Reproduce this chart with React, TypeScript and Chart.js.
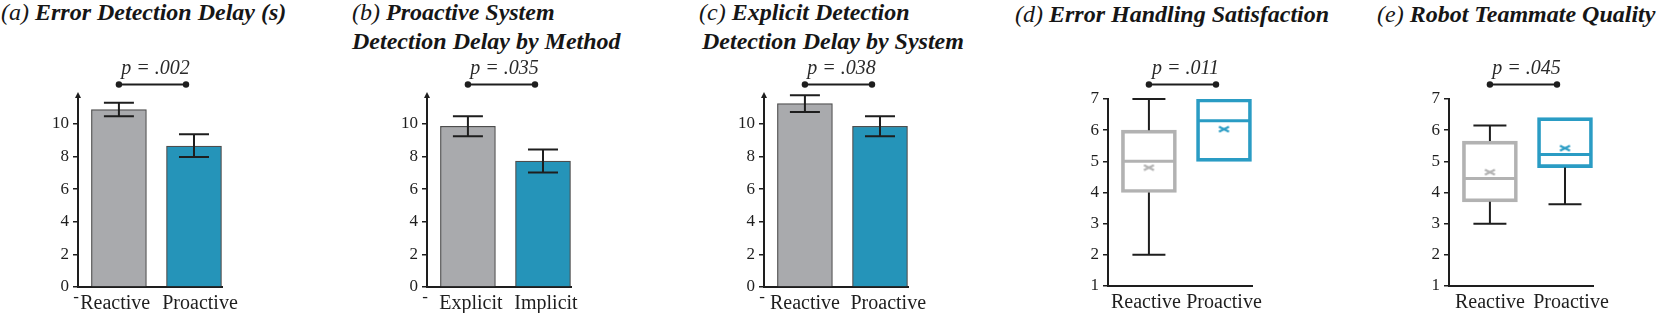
import React, { useEffect, useRef } from "react";
import { Chart, registerables } from "chart.js";

Chart.register(...registerables);

const FONT = '"Liberation Serif", "DejaVu Serif", "Noto Serif", serif';

// ---------- Panel (a) ----------
const aCategories = ["Reactive", "Proactive"];
const aMeans = [10.88, 8.64];
const aErrLow = [10.47, 7.98];
const aErrHigh = [11.3, 9.37];
const aPValue = "p = .002";

// ---------- Panel (b) ----------
const bCategories = ["Explicit", "Implicit"];
const bMeans = [9.86, 7.72];
const bErrLow = [9.25, 7.03];
const bErrHigh = [10.47, 8.44];
const bPValue = "p = .035";

// ---------- Panel (c) ----------
const cCategories = ["Reactive", "Proactive"];
const cMeans = [11.25, 9.86];
const cErrLow = [10.73, 9.25];
const cErrHigh = [11.77, 10.47];
const cPValue = "p = .038";

const barTicks = [0, 2, 4, 6, 8, 10];

// ---------- Panel (d) ----------
const dCategories = ["Reactive", "Proactive"];
const dQ1 = [4, 5];
const dQ3 = [6, 7];
const dMedian = [5, 6.3];
const dMean = [4.8, 6.03];
const dMin = [2, 5];
const dMax = [7, 7];
const dPValue = "p = .011";

// ---------- Panel (e) ----------
const eCategories = ["Reactive", "Proactive"];
const eQ1 = [3.7, 4.8];
const eQ3 = [5.65, 6.4];
const eMedian = [4.45, 5.22];
const eMean = [4.65, 5.42];
const eMin = [3.0, 3.62];
const eMax = [6.15, 6.4];
const ePValue = "p = .045";

const boxTicks = [1, 2, 3, 4, 5, 6, 7];

// ---------- Titles ----------
const titleA = ["(a)", "Error Detection Delay (s)"];
const titleB = ["(b)", "Proactive System", "Detection Delay by Method"];
const titleC = ["(c)", "Explicit Detection", "Detection Delay by System"];
const titleD = ["(d)", "Error Handling Satisfaction"];
const titleE = ["(e)", "Robot Teammate Quality"];

// ---------- Style ----------
const GRAY_BAR = "#a9aaad";
const TEAL_BAR = "#2594b9";
const BAR_EDGE = "#4d4d4d";
const GRAY_BOX = "#b2b2b2";
const TEAL_BOX = "#2a9cc4";
const INK = "#1e1e1e";

const X_MIN = -0.545;
const X_MAX = 1.373;
const Y_AXIS_W = 50;
const PLOT_W = 144;
const RIGHT_PAD = 40;
const CANVAS_W = Y_AXIS_W + PLOT_W + RIGHT_PAD;
const CANVAS_H = 313;

function xScale(categories: string[], axisHeight: number, labelShift: number[]) {
  return {
    type: "linear",
    min: X_MIN,
    max: X_MAX,
    offset: false,
    grid: { display: false, offset: false },
    border: { display: true, color: INK, width: 2 },
    afterBuildTicks: (s: any) => {
      s.ticks = categories.map((_, i) => ({ value: i + (labelShift[i] || 0) }));
    },
    afterFit: (s: any) => {
      s.height = axisHeight;
    },
    ticks: {
      autoSkip: false,
      maxRotation: 0,
      minRotation: 0,
      padding: -3,
      color: INK,
      font: { family: FONT, size: 20 },
      callback: (_v: any, index: number) => categories[index] ?? "",
    },
  };
}

function yScale(min: number, max: number, ticks: number[]) {
  return {
    type: "linear",
    min,
    max,
    afterBuildTicks: (s: any) => {
      s.ticks = ticks.map((v) => ({ value: v }));
    },
    afterFit: (s: any) => {
      s.width = Y_AXIS_W;
    },
    grid: {
      display: true,
      drawOnChartArea: false,
      drawTicks: true,
      tickLength: 5,
      color: INK,
      lineWidth: 1.5,
    },
    border: { display: true, color: INK, width: 2 },
    ticks: {
      padding: 4,
      color: INK,
      font: { family: FONT, size: 17 },
    },
  };
}

function bracketPlugin(pText: string) {
  return {
    id: "bracket",
    afterDraw(chart: any) {
      const { ctx, scales } = chart;
      const x0 = scales.x.getPixelForValue(0);
      const x1 = scales.x.getPixelForValue(1) - 8;
      const by = 84.5;
      ctx.save();
      ctx.strokeStyle = INK;
      ctx.fillStyle = INK;
      ctx.lineWidth = 2;
      ctx.beginPath();
      ctx.moveTo(x0, by);
      ctx.lineTo(x1, by);
      ctx.stroke();
      [x0, x1].forEach((px) => {
        ctx.beginPath();
        ctx.arc(px, by, 3.2, 0, Math.PI * 2);
        ctx.fill();
      });
      ctx.font = `italic 20px ${FONT}`;
      ctx.textAlign = "center";
      ctx.textBaseline = "alphabetic";
      ctx.fillStyle = "#2a2a2a";
      ctx.fillText(pText, (x0 + x1) / 2 + 3, 74);
      ctx.restore();
    },
  };
}

function errorBarPlugin(low: number[], high: number[]) {
  return {
    id: "errorbars",
    afterDatasetsDraw(chart: any) {
      const { ctx, scales } = chart;
      ctx.save();
      ctx.strokeStyle = INK;
      ctx.lineWidth = 2;
      low.forEach((lo, i) => {
        const px = scales.x.getPixelForValue(i);
        const y1 = scales.y.getPixelForValue(lo);
        const y2 = scales.y.getPixelForValue(high[i]);
        ctx.beginPath();
        ctx.moveTo(px, y1);
        ctx.lineTo(px, y2);
        ctx.moveTo(px - 15, y1);
        ctx.lineTo(px + 15, y1);
        ctx.moveTo(px - 15, y2);
        ctx.lineTo(px + 15, y2);
        ctx.stroke();
      });
      ctx.restore();
    },
  };
}

const arrowPlugin = {
  id: "yarrow",
  afterDraw(chart: any) {
    const { ctx, chartArea } = chart;
    const x = chartArea.left;
    const t = chartArea.top;
    ctx.save();
    ctx.strokeStyle = INK;
    ctx.fillStyle = INK;
    ctx.lineWidth = 2;
    ctx.beginPath();
    ctx.moveTo(x, t + 1);
    ctx.lineTo(x, t - 1);
    ctx.stroke();
    ctx.beginPath();
    ctx.moveTo(x, t - 3);
    ctx.lineTo(x - 3, t + 3);
    ctx.lineTo(x + 3, t + 3);
    ctx.closePath();
    ctx.fill();
    // stray dash mark under the axis
    ctx.font = `17px ${FONT}`;
    ctx.textAlign = "center";
    ctx.textBaseline = "middle";
    ctx.fillText("-", x - 2, 298);
    ctx.restore();
  },
};

function boxPlugin(q1: number[], q3: number[], med: number[], lo: number[], hi: number[], colors: string[]) {
  return {
    id: "boxparts",
    afterDatasetsDraw(chart: any) {
      const { ctx, scales } = chart;
      ctx.save();
      q1.forEach((_, i) => {
        const px = scales.x.getPixelForValue(i);
        ctx.strokeStyle = INK;
        ctx.lineWidth = 2;
        ctx.beginPath();
        if (hi[i] > q3[i]) {
          const a = scales.y.getPixelForValue(q3[i]);
          const b = scales.y.getPixelForValue(hi[i]);
          ctx.moveTo(px, a);
          ctx.lineTo(px, b);
          ctx.moveTo(px - 16.5, b);
          ctx.lineTo(px + 16.5, b);
        }
        if (lo[i] < q1[i]) {
          const a = scales.y.getPixelForValue(q1[i]);
          const b = scales.y.getPixelForValue(lo[i]);
          ctx.moveTo(px, a);
          ctx.lineTo(px, b);
          ctx.moveTo(px - 16.5, b);
          ctx.lineTo(px + 16.5, b);
        }
        ctx.stroke();
        const my = scales.y.getPixelForValue(med[i]);
        ctx.strokeStyle = colors[i];
        ctx.lineWidth = 3;
        ctx.beginPath();
        ctx.moveTo(px - 26, my);
        ctx.lineTo(px + 26, my);
        ctx.stroke();
      });
      ctx.restore();
    },
  };
}

function meanMarker(color: string) {
  const c = document.createElement("canvas");
  c.width = 13;
  c.height = 8;
  const g = c.getContext("2d")!;
  g.strokeStyle = color;
  g.lineWidth = 2;
  g.beginPath();
  g.moveTo(1.5, 1.5);
  g.lineTo(11.5, 6.5);
  g.moveTo(1.5, 6.5);
  g.lineTo(11.5, 1.5);
  g.stroke();
  return c;
}

function barConfig(
  categories: string[],
  means: number[],
  errLow: number[],
  errHigh: number[],
  pText: string,
  labelShift: number[]
) {
  const top = 95;
  const bottom = 287;
  return {
    type: "bar",
    data: {
      datasets: [
        {
          data: categories.map((_, i) => ({ x: i, y: means[i] })),
          backgroundColor: [GRAY_BAR, TEAL_BAR],
          borderColor: BAR_EDGE,
          borderWidth: 1.2,
          barThickness: 55,
        },
      ],
    },
    options: {
      responsive: false,
      animation: false,
      devicePixelRatio: 1,
      layout: { padding: { top, left: 0, right: RIGHT_PAD, bottom: 0 } },
      plugins: { legend: { display: false }, tooltip: { enabled: false } },
      scales: {
        x: xScale(categories, CANVAS_H - bottom, labelShift),
        y: yScale(0, 11.78, barTicks),
      },
    },
    plugins: [errorBarPlugin(errLow, errHigh), bracketPlugin(pText), arrowPlugin],
  };
}

function boxConfig(
  categories: string[],
  q1: number[],
  q3: number[],
  med: number[],
  mean: number[],
  lo: number[],
  hi: number[],
  pText: string,
  labelShift: number[]
) {
  const top = 99;
  const bottom = 286;
  const colors = [GRAY_BOX, TEAL_BOX];
  return {
    type: "bar",
    data: {
      datasets: [
        {
          type: "bar",
          data: categories.map((_, i) => ({ x: i, y: [q1[i], q3[i]] })),
          backgroundColor: "rgba(255,255,255,0)",
          borderColor: colors,
          borderWidth: 3,
          borderSkipped: false,
          barThickness: 55,
          order: 2,
        },
        {
          type: "scatter",
          data: categories.map((_, i) => ({ x: i, y: mean[i] })),
          pointStyle: colors.map((c) => meanMarker(c)),
          pointRadius: 6,
          order: 1,
        },
      ],
    },
    options: {
      responsive: false,
      animation: false,
      devicePixelRatio: 1,
      layout: { padding: { top, left: 0, right: RIGHT_PAD, bottom: 0 } },
      plugins: { legend: { display: false }, tooltip: { enabled: false } },
      scales: {
        x: xScale(categories, CANVAS_H - bottom, labelShift),
        y: yScale(1, 7, boxTicks),
      },
    },
    plugins: [boxPlugin(q1, q3, med, lo, hi, colors), bracketPlugin(pText)],
  };
}

function ChartPanel({ plotLeft, makeConfig }: { plotLeft: number; makeConfig: () => any }) {
  const ref = useRef<HTMLCanvasElement>(null);
  useEffect(() => {
    const chart = new Chart(ref.current as HTMLCanvasElement, makeConfig());
    return () => chart.destroy();
  }, []);
  const left = plotLeft - Y_AXIS_W;
  return (
    <canvas
      ref={ref}
      width={CANVAS_W}
      height={CANVAS_H}
      style={{ position: "absolute", left, top: 0, width: CANVAS_W, height: CANVAS_H }}
    />
  );
}

function Title({ left, top, parts, indent = 0 }: { left: number; top: number; parts: string[]; indent?: number }) {
  const base: React.CSSProperties = {
    position: "absolute",
    left,
    top,
    fontFamily: FONT,
    fontSize: 24,
    lineHeight: "28.5px",
    color: "#161616",
    whiteSpace: "nowrap",
    fontStyle: "italic",
  };
  return (
    <div style={base}>
      <div>
        <span style={{ fontWeight: 400 }}>{parts[0]}</span>{" "}
        <span style={{ fontWeight: 700 }}>{parts[1]}</span>
      </div>
      {parts[2] ? <div style={{ fontWeight: 700, paddingLeft: indent }}>{parts[2]}</div> : null}
    </div>
  );
}

export default function App() {
  return (
    <div style={{ position: "absolute", left: 0, top: 0, width: 1662, height: 313, background: "#ffffff", overflow: "hidden" }}>
      <Title left={1} top={-1.6} parts={titleA} />
      <Title left={352} top={-1.6} parts={titleB} />
      <Title left={699} top={-1.6} parts={titleC} indent={3} />
      <Title left={1015} top={0.2} parts={titleD} />
      <Title left={1377} top={0.2} parts={titleE} />
      <ChartPanel
        plotLeft={78}
        makeConfig={() => barConfig(aCategories, aMeans, aErrLow, aErrHigh, aPValue, [-0.05, 0.08])}
      />
      <ChartPanel
        plotLeft={427}
        makeConfig={() => barConfig(bCategories, bMeans, bErrLow, bErrHigh, bPValue, [0.04, 0.04])}
      />
      <ChartPanel
        plotLeft={764}
        makeConfig={() => barConfig(cCategories, cMeans, cErrLow, cErrHigh, cPValue, [0, 0.11])}
      />
      <ChartPanel
        plotLeft={1108}
        makeConfig={() => boxConfig(dCategories, dQ1, dQ3, dMedian, dMean, dMin, dMax, dPValue, [-0.04, 0])}
      />
      <ChartPanel
        plotLeft={1449}
        makeConfig={() => boxConfig(eCategories, eQ1, eQ3, eMedian, eMean, eMin, eMax, ePValue, [0, 0.08])}
      />
    </div>
  );
}
